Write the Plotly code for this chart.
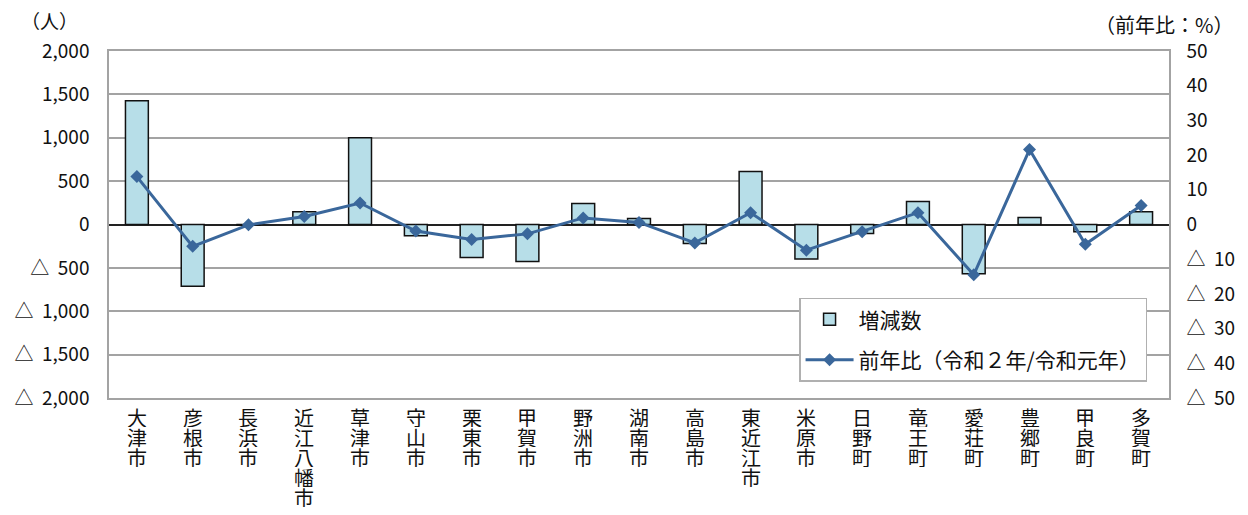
import plotly.graph_objects as go

categories = ["大津市", "彦根市", "長浜市", "近江八幡市", "草津市", "守山市", "栗東市", "甲賀市",
              "野洲市", "湖南市", "高島市", "東近江市", "米原市", "日野町", "竜王町", "愛荘町",
              "豊郷町", "甲良町", "多賀町"]
change_people = [1426, -711, -8, 146, 1000, -130, -380, -427, 242, 69, -219, 611, -398, -104,
                 265, -569, 81, -84, 146]
yoy_pct = [13.8, -6.3, -0.1, 2.3, 6.2, -1.9, -4.3, -2.7, 1.9, 0.6, -5.3, 3.4, -7.4, -2.1,
           3.4, -14.5, 21.6, -5.7, 5.5]

left_tickvals = [2000, 1500, 1000, 500, 0, -500, -1000, -1500, -2000]
left_ticktext = ["2,000", "1,500", "1,000", "500", "0",
                 "△\u00a0\u00a0500", "△\u00a0\u00a01,000", "△\u00a0\u00a01,500", "△\u00a0\u00a02,000"]
right_tickvals = [50, 40, 30, 20, 10, 0, -10, -20, -30, -40, -50]
right_ticktext = ["50", "40", "30", "20", "10", "0",
                  "△\u00a0\u00a010", "△\u00a0\u00a020", "△\u00a0\u00a030", "△\u00a0\u00a040", "△\u00a0\u00a050"]

FONT = "Noto Sans CJK JP"
GRID = "#a3a3a3"
TXT = "#111111"

fig = go.Figure()
fig.add_trace(go.Bar(
    x=categories, y=change_people, name="増減数",
    marker=dict(color="#b7dee8", line=dict(color="#111111", width=1.5)),
    width=0.41, legendgroup="a",
))
fig.add_trace(go.Scatter(
    x=categories, y=yoy_pct, name="前年比（令和２年/令和元年）", yaxis="y2",
    mode="lines+markers",
    line=dict(color="#3a679b", width=3),
    marker=dict(symbol="diamond", size=10, color="#3a679b"),
    legendgroup="b",
))

# vertical category labels: one character per line, stacked below each category
annotations = []
for c in categories:
    for i, ch in enumerate(c):
        annotations.append(dict(
            x=c, xref="x", y=0, yref="paper", yanchor="top", xanchor="center",
            yshift=-(9 + 20 * i), text=ch, showarrow=False, height=19, borderpad=0,
            font=dict(family=FONT, size=20, color=TXT),
        ))
annotations += [
    dict(x=-0.085, xref="paper", y=1.0865, yref="paper", xanchor="left", yanchor="middle",
         text="（人）", showarrow=False, font=dict(family=FONT, size=19, color=TXT)),
    dict(x=1.0625, xref="paper", y=1.075, yref="paper", xanchor="right", yanchor="middle",
         text="（前年比：%）", showarrow=False, font=dict(family=FONT, size=20, color=TXT)),
]

fig.update_layout(
    width=1240, height=507,
    margin=dict(l=101, r=79, t=43, b=117, pad=0),
    paper_bgcolor="white", plot_bgcolor="white",
    font=dict(family=FONT, size=20, color=TXT),
    showlegend=True,
    legend=dict(
        x=0.651, y=0.289, xanchor="left", yanchor="top",
        bordercolor="#b0b0b0", borderwidth=1.5, bgcolor="white",
        font=dict(family=FONT, size=21, color=TXT),
        traceorder="grouped", tracegroupgap=10, itemwidth=48,
    ),
    xaxis=dict(
        range=[-0.5, len(categories) - 0.5],
        showticklabels=False, showgrid=False, ticks="", automargin=False,
        showline=True, linecolor=GRID, linewidth=1.5, mirror=True,
    ),
    yaxis=dict(
        range=[-2000, 2000], tickvals=left_tickvals, ticktext=left_ticktext,
        showgrid=True, gridcolor=GRID, gridwidth=1.5,
        zeroline=True, zerolinecolor="#222222", zerolinewidth=2,
        showline=True, linecolor=GRID, linewidth=1.5,
        ticks="", ticklabelstandoff=14, automargin=False,
        tickfont=dict(family=FONT, size=19, color=TXT),
    ),
    yaxis2=dict(
        range=[-50, 50], tickvals=right_tickvals, ticktext=right_ticktext,
        overlaying="y", side="right", showgrid=False, zeroline=False,
        showline=True, linecolor=GRID, linewidth=1.5,
        ticks="", ticklabelstandoff=12, automargin=False,
        tickfont=dict(family=FONT, size=19, color=TXT),
    ),
    annotations=annotations,
)

fig.write_html("out.html")
